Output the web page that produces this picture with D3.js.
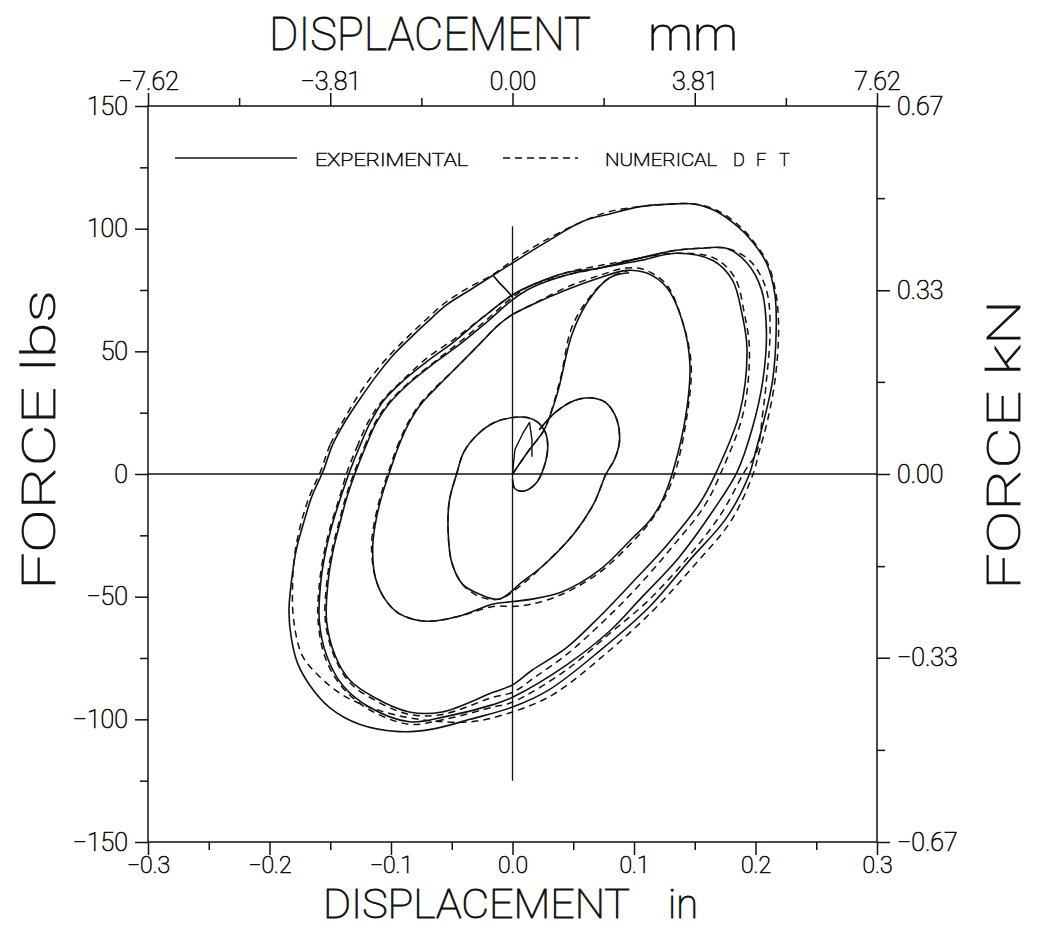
<!DOCTYPE html>
<html><head><meta charset="utf-8">
<script src="https://cdn.jsdelivr.net/npm/d3@7"></script>
<style>
body{margin:0;background:#fff;}
svg text{font-family:Roboto,"Liberation Sans",sans-serif;font-weight:100;fill:#111;stroke:#111;stroke-width:0.7px;}
svg text.big{stroke-width:0.9px;}
</style></head><body>
<svg id="chart" width="1041" height="929"></svg>
<script>
// ---------- tick values / labels ----------
const xMajor = [-0.3,-0.2,-0.1,0,0.1,0.2,0.3];
const xLabels = ["−0.3","−0.2","−0.1","0.0","0.1","0.2","0.3"];
const xMinor = [-0.25,-0.15,-0.05,0.05,0.15,0.25];
const yMajor = [-150,-100,-50,0,50,100,150];
const yLabels = ["−150","−100","−50","0","50","100","150"];
const yMinor = [-125,-75,-25,25,75,125];
const mmMajor = [-7.62,-3.81,0,3.81,7.62];
const mmLabels = ["−7.62","−3.81","0.00","3.81","7.62"];
const mmMinor = [-5.715,-1.905,1.905,5.715];
const kNMajor = [-0.667,-0.333,0,0.333,0.667];
const kNLabels = ["−0.67","−0.33","0.00","0.33","0.67"];
const kNMinor = [-0.5,-0.167,0.167,0.5];

// ---------- experimental (solid) : [displacement in, force lbs] ----------
const expZig = [[0,0],[0.002,10],[0.004,12],[0.009,17],[0.014,21],[0.016,14],[0.016,7]];
const expTrans = [[0,0],[0.014,10],[0.026,18],[0.037,33],[0.049,57],[0.063,71],[0.080,80],[0.096,82]];
const expHook = [[-0.016,81],[-0.011,78],[-0.005,75],[0,72]];
const expHeart = [[0.022,18],[0.035,25],[0.051,30],[0.066,31],[0.077,29],[0.086,22],[0.088,13],[0.084,6],[0.077,0],[0.067,-12],[0.051,-24],[0.026,-37],[0.008,-44],[-0.011,-51],[-0.027,-49],[-0.041,-45],[-0.050,-36],[-0.053,-23],[-0.052,-11],[-0.046,0],[-0.040,9],[-0.029,16],[-0.015,21],[0,23],[0.012,23],[0.021,21],[0.027,17],[0.029,11],[0.026,3],[0.019,-4],[0.009,-7],[0.002,-6],[0,-2]];
const expC = [[-0.101,1],[-0.094,11],[-0.086,20],[-0.076,28],[-0.063,35],[-0.047,43],[-0.029,52],[-0.011,61],[0,65],[0.016,69],[0.044,75],[0.072,80],[0.094,83],[0.110,82],[0.127,76],[0.140,62],[0.146,45],[0.143,25],[0.132,1],[0.123,-11],[0.113,-19],[0.099,-26],[0.072,-39],[0.041,-48],[0.016,-51],[0,-52],[-0.016,-53],[-0.044,-58],[-0.071,-60],[-0.093,-57],[-0.105,-51],[-0.113,-42],[-0.115,-29],[-0.112,-18],[-0.107,-8]];
const expD1 = [[-0.129,1],[-0.121,11],[-0.112,21],[-0.101,29],[-0.085,37],[-0.065,45],[-0.043,53],[-0.021,62],[0,71],[0.016,76],[0.044,81],[0.072,84],[0.105,87],[0.135,90],[0.165,87],[0.181,79],[0.189,65],[0.193,51],[0.187,25],[0.168,1],[0.154,-12],[0.127,-29],[0.099,-44],[0.072,-58],[0.044,-71],[0.016,-80],[0,-86],[-0.016,-89],[-0.058,-97],[-0.085,-97],[-0.114,-91],[-0.134,-84],[-0.146,-74],[-0.153,-60],[-0.152,-45],[-0.148,-32],[-0.142,-20],[-0.136,-9]];
const expD2 = [[-0.134,1],[-0.126,11],[-0.117,21],[-0.106,30],[-0.090,38],[-0.070,46],[-0.048,54],[-0.024,64],[0,73],[0.016,77],[0.044,82],[0.072,84],[0.105,88],[0.132,91],[0.154,92],[0.176,92],[0.193,86],[0.205,75],[0.209,58],[0.206,38],[0.197,18],[0.185,1],[0.165,-15],[0.137,-34],[0.105,-51],[0.080,-64],[0.044,-78],[0,-91],[-0.016,-94],[-0.056,-99],[-0.085,-101],[-0.118,-95],[-0.140,-86],[-0.153,-74],[-0.159,-60],[-0.158,-45],[-0.154,-32],[-0.148,-20],[-0.141,-9]];
const expE = [[-0.156,1],[-0.148,12],[-0.137,22],[-0.125,31],[-0.112,40],[-0.099,48],[-0.085,55],[-0.070,62],[-0.054,69],[-0.035,75],[-0.016,81],[0,86],[0.026,94],[0.058,103],[0.080,106],[0.105,109],[0.129,110],[0.150,110],[0.168,107],[0.185,101],[0.197,95],[0.209,86],[0.216,73],[0.217,58],[0.214,38],[0.207,22],[0.200,9],[0.195,0],[0.176,-18],[0.146,-35],[0.113,-54],[0.072,-72],[0.030,-88],[0,-95],[-0.035,-100],[-0.066,-104],[-0.093,-105],[-0.126,-102],[-0.151,-95],[-0.167,-86],[-0.177,-77],[-0.182,-67],[-0.184,-56],[-0.182,-44],[-0.178,-31],[-0.172,-20],[-0.165,-9]];

// ---------- numerical DFT (dashed) ----------
const numTrans = [[0,0],[0.014,10],[0.026,18],[0.039,38],[0.049,60],[0.065,73],[0.080,80],[0.096,83]];
const numHeart = [[0.022,18],[0.035,25],[0.051,30],[0.066,31],[0.077,29],[0.086,22],[0.088,13],[0.084,6],[0.077,0],[0.067,-12],[0.051,-24],[0.026,-37],[0.008,-45],[-0.011,-51],[-0.027,-50],[-0.041,-45],[-0.050,-36],[-0.053,-23],[-0.052,-11],[-0.046,0],[-0.040,9],[-0.029,16],[-0.015,21],[0,23],[0.012,23],[0.021,21],[0.027,17],[0.029,11],[0.026,3],[0.019,-4],[0.009,-7],[0.002,-6],[0,-2]];
const numC = [[-0.102,1],[-0.095,11],[-0.087,20],[-0.077,28],[-0.064,35],[-0.047,43],[-0.029,52],[-0.011,61],[0,65],[0.016,69],[0.044,76],[0.072,81],[0.094,84],[0.110,83],[0.127,77],[0.140,62],[0.147,45],[0.144,25],[0.134,1],[0.124,-11],[0.114,-19],[0.100,-27],[0.072,-40],[0.041,-49],[0.016,-53],[0,-54],[-0.016,-54],[-0.044,-58],[-0.071,-60],[-0.093,-57],[-0.105,-51],[-0.113,-42],[-0.116,-29],[-0.113,-18],[-0.108,-8]];
const numD1 = [[-0.130,1],[-0.122,11],[-0.113,21],[-0.102,29],[-0.086,37],[-0.066,45],[-0.043,54],[-0.021,63],[0,72],[0.016,77],[0.044,81],[0.072,84],[0.105,88],[0.135,90],[0.166,88],[0.183,80],[0.191,65],[0.195,51],[0.190,25],[0.172,1],[0.158,-13],[0.131,-30],[0.103,-46],[0.075,-60],[0.046,-73],[0.018,-83],[0,-89],[-0.016,-91],[-0.058,-98],[-0.085,-98],[-0.114,-92],[-0.134,-85],[-0.147,-74],[-0.154,-60],[-0.153,-45],[-0.149,-32],[-0.143,-20],[-0.137,-9]];
const numD2 = [[-0.136,1],[-0.128,11],[-0.119,21],[-0.107,30],[-0.091,38],[-0.071,47],[-0.048,55],[-0.024,64],[0,73],[0.016,77],[0.044,82],[0.072,85],[0.105,88],[0.132,91],[0.154,92],[0.176,92],[0.193,88],[0.203,82],[0.210,73],[0.212,58],[0.209,38],[0.206,25],[0.201,9],[0.191,1],[0.172,-16],[0.146,-33],[0.113,-51],[0.080,-65],[0.044,-80],[0,-93],[-0.016,-95],[-0.056,-100],[-0.085,-102],[-0.118,-96],[-0.140,-87],[-0.154,-75],[-0.160,-60],[-0.159,-45],[-0.155,-32],[-0.149,-20],[-0.142,-9]];
const numE = [[-0.158,1],[-0.150,12],[-0.139,22],[-0.127,32],[-0.114,41],[-0.100,49],[-0.086,56],[-0.071,63],[-0.055,70],[-0.036,76],[-0.017,81],[0,87],[0.026,95],[0.058,103],[0.080,107],[0.105,109],[0.129,110],[0.151,110],[0.170,107],[0.187,101],[0.198,95],[0.210,86],[0.217,73],[0.219,58],[0.216,38],[0.210,22],[0.203,9],[0.198,0],[0.180,-19],[0.150,-37],[0.117,-55],[0.075,-74],[0.033,-90],[0,-97],[-0.035,-101],[-0.077,-100],[-0.112,-96],[-0.140,-90],[-0.160,-82],[-0.173,-74],[-0.180,-60],[-0.181,-45],[-0.179,-32],[-0.174,-20],[-0.167,-9]];

// ---------- chart ----------
const svg = d3.select("#chart");
const x = d3.scaleLinear().domain([-0.3,0.3]).range([148,877]);
const y = d3.scaleLinear().domain([-150,150]).range([842,106]);
const xmm = d3.scaleLinear().domain([-7.62,7.62]).range(x.range());
const ykN = d3.scaleLinear().domain([-0.667,0.667]).range(y.range());
const INK = "#111";

function styleAxis(g, fs){
  g.select(".domain").remove();
  g.attr("font-size", fs).attr("font-family", null);
  g.selectAll("line").attr("stroke", INK).attr("stroke-width", 1.5);
  g.selectAll("text").attr("fill", INK);
}
const [L,R] = x.range(); const [B,T] = y.range();

svg.append("g").attr("transform",`translate(${L},0)`)
  .call(d3.axisLeft(y).tickValues(yMajor).tickSize(13).tickPadding(7).tickFormat((d,i)=>yLabels[i])).call(styleAxis,25);
svg.append("g").attr("transform",`translate(${L},0)`)
  .call(d3.axisLeft(y).tickValues(yMinor).tickSize(8).tickFormat("")).call(styleAxis,25);
svg.append("g").attr("transform",`translate(${R},0)`)
  .call(d3.axisRight(ykN).tickValues(kNMajor).tickSize(13).tickPadding(7).tickFormat((d,i)=>kNLabels[i])).call(styleAxis,25);
svg.append("g").attr("transform",`translate(${R},0)`)
  .call(d3.axisRight(ykN).tickValues(kNMinor).tickSize(8).tickFormat("")).call(styleAxis,25);
svg.append("g").attr("transform",`translate(0,${B})`)
  .call(d3.axisBottom(x).tickValues(xMajor).tickSize(13).tickPadding(2).tickFormat((d,i)=>xLabels[i])).call(styleAxis,23);
svg.append("g").attr("transform",`translate(0,${B})`)
  .call(d3.axisBottom(x).tickValues(xMinor).tickSize(8).tickFormat("")).call(styleAxis,23);
svg.append("g").attr("transform",`translate(0,${T})`)
  .call(d3.axisTop(xmm).tickValues(mmMajor).tickSize(13).tickPadding(3).tickFormat((d,i)=>mmLabels[i])).call(styleAxis,25);
svg.append("g").attr("transform",`translate(0,${T})`)
  .call(d3.axisTop(xmm).tickValues(mmMinor).tickSize(8).tickFormat("")).call(styleAxis,25);

svg.append("rect").attr("x",L).attr("y",T).attr("width",R-L).attr("height",B-T)
  .attr("fill","none").attr("stroke",INK).attr("stroke-width",1.5);

svg.append("line").attr("x1",x(-0.3)).attr("x2",x(0.3)).attr("y1",y(0)).attr("y2",y(0))
  .attr("stroke",INK).attr("stroke-width",1.3);
svg.append("line").attr("x1",x(0)).attr("x2",x(0)).attr("y1",y(101)).attr("y2",y(-125))
  .attr("stroke",INK).attr("stroke-width",1.3);

const open = d3.line().x(d=>x(d[0])).y(d=>y(d[1])).curve(d3.curveCatmullRom.alpha(0.5));
const closed = d3.line().x(d=>x(d[0])).y(d=>y(d[1])).curve(d3.curveCatmullRomClosed.alpha(0.5));
const lin = d3.line().x(d=>x(d[0])).y(d=>y(d[1]));
const gData = svg.append("g").attr("fill","none").attr("stroke",INK).attr("stroke-linejoin","round");

[numC,numD1,numD2,numE].forEach(s=>gData.append("path").attr("d",closed(s)).attr("stroke-width",1.5).attr("stroke-dasharray","7,5"));
[numHeart,numTrans].forEach(s=>gData.append("path").attr("d",open(s)).attr("stroke-width",1.5).attr("stroke-dasharray","7,5"));
[expC,expD1,expD2,expE].forEach(s=>gData.append("path").attr("d",closed(s)).attr("stroke-width",1.6));
[expHeart,expTrans,expHook].forEach(s=>gData.append("path").attr("d",open(s)).attr("stroke-width",1.6));
gData.append("path").attr("d",lin(expZig)).attr("stroke-width",1.4);

const lg = svg.append("g");
lg.append("line").attr("x1",175).attr("x2",297).attr("y1",158).attr("y2",158).attr("stroke",INK).attr("stroke-width",1.6);
lg.append("text").attr("x",315).attr("y",166).attr("font-size",18).attr("textLength",153).attr("lengthAdjust","spacingAndGlyphs").text("EXPERIMENTAL");
lg.append("line").attr("x1",503).attr("x2",578).attr("y1",158).attr("y2",158).attr("stroke",INK).attr("stroke-width",1.5).attr("stroke-dasharray","7,5");
lg.append("text").attr("x",605).attr("y",166).attr("font-size",18).attr("textLength",112).attr("lengthAdjust","spacingAndGlyphs").text("NUMERICAL");
[["D",733],["F",756],["T",779]].forEach(([t,px])=>lg.append("text").attr("x",px).attr("y",166).attr("font-size",18).text(t));

function title(txt, xp, yp, len, fs, rot){
  const t = svg.append("text").attr("class","big").attr("font-size",fs).attr("textLength",len).attr("lengthAdjust","spacingAndGlyphs").text(txt);
  if(rot){ t.attr("text-anchor","middle").attr("transform",`translate(${xp},${yp}) rotate(-90)`); }
  else { t.attr("x",xp).attr("y",yp); }
  return t;
}
title("DISPLACEMENT", 269, 50, 322, 47);
title("mm", 648, 50, 90, 47);
title("DISPLACEMENT", 323, 918, 307, 41);
title("in", 668, 918, 30, 41);
title("FORCE lbs", 55, 440, 300, 47, true);
title("FORCE kN", 1020, 445, 290, 47, true);
</script>
</body></html>
